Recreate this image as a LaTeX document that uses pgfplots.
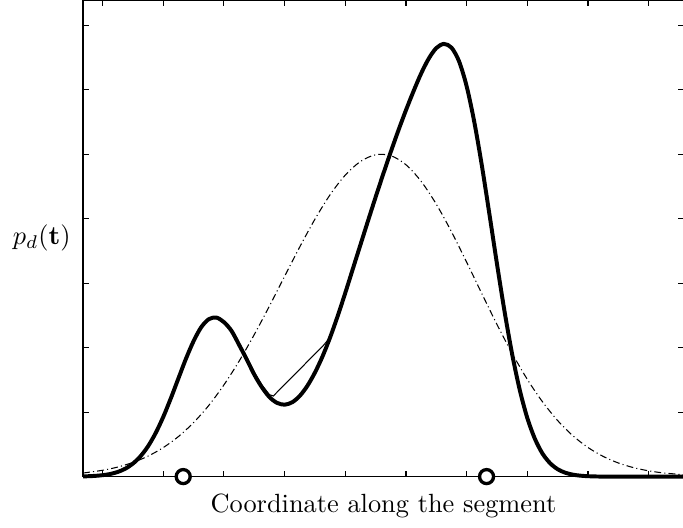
\documentclass[border=0pt]{standalone}
\usepackage{pgfplots}
\pgfplotsset{compat=1.18}

% estimated density (thick), on an even grid
\pgfplotstableread{
x      y
0.678  0.004
0.750  0.005
0.875  0.011
1.000  0.022
1.125  0.040
1.250  0.072
1.375  0.123
1.500  0.202
1.625  0.316
1.750  0.472
1.875  0.677
2.000  0.927
2.125  1.216
2.250  1.525
2.375  1.831
2.500  2.103
2.625  2.317
2.750  2.441
2.875  2.466
3.000  2.395
3.125  2.259
3.250  2.042
3.375  1.818
3.500  1.581
3.625  1.386
3.750  1.232
3.875  1.143
4.000  1.115
4.125  1.153
4.250  1.252
4.375  1.408
4.500  1.614
4.625  1.865
4.750  2.160
4.875  2.492
5.000  2.850
5.125  3.224
5.250  3.597
5.375  3.969
5.500  4.335
5.625  4.692
5.750  5.037
5.875  5.369
6.000  5.683
6.125  5.978
6.250  6.252
6.375  6.482
6.500  6.646
6.625  6.710
6.750  6.652
6.875  6.440
7.000  6.053
7.125  5.504
7.250  4.827
7.375  4.072
7.500  3.297
7.625  2.559
7.750  1.898
7.875  1.345
8.000  0.908
8.125  0.585
8.250  0.357
8.375  0.208
8.500  0.114
8.625  0.060
8.750  0.030
8.875  0.014
9.000  0.006
9.125  0.002
9.250  0.000
9.500  0.000
10.000 0.000
10.579 0.000
}\densitytable

% piecewise-linear approximation (thin)
\pgfplotstableread{
x      y
0.678  0.004
0.750  0.005
0.875  0.011
1.000  0.022
1.125  0.040
1.250  0.072
1.375  0.123
1.500  0.202
1.625  0.316
1.750  0.472
1.875  0.677
2.000  0.927
2.125  1.216
2.250  1.525
2.375  1.831
2.500  2.103
2.625  2.317
2.750  2.441
2.875  2.466
3.000  2.400
3.125  2.280
3.250  2.075
3.375  1.855
3.500  1.620
3.625  1.420
3.750  1.270
3.813  1.250
4.639  2.034
4.750  2.160
4.875  2.492
5.000  2.850
5.125  3.224
5.250  3.597
5.375  3.969
5.500  4.335
5.625  4.692
5.750  5.037
5.875  5.369
6.000  5.683
6.125  5.978
6.250  6.252
6.375  6.482
6.500  6.646
6.625  6.710
6.750  6.652
6.875  6.440
7.000  6.053
7.125  5.504
7.250  4.827
7.375  4.072
7.500  3.297
7.625  2.559
7.750  1.898
7.875  1.345
8.000  0.908
8.125  0.585
8.250  0.357
8.375  0.208
8.500  0.114
8.625  0.060
8.750  0.030
8.875  0.014
9.000  0.006
9.250  0.000
10.579 0.000
}\approxtable

% single Gaussian fit (dash-dot)
\pgfplotstableread{
x      y
0.678  0.055
1.00   0.098
1.25   0.148
1.50   0.220
1.75   0.318
2.00   0.450
2.25   0.621
2.50   0.838
2.75   1.104
3.00   1.423
3.25   1.791
3.50   2.203
3.75   2.646
4.00   3.107
4.25   3.563
4.50   3.993
4.75   4.372
5.00   4.676
5.25   4.887
5.50   4.991
5.75   4.977
6.00   4.836
6.25   4.579
6.50   4.224
6.75   3.797
7.00   3.325
7.25   2.838
7.50   2.359
7.75   1.911
8.00   1.508
8.25   1.160
8.50   0.869
8.75   0.634
9.00   0.451
9.25   0.313
9.50   0.211
9.75   0.139
10.00  0.089
10.25  0.056
10.579 0.029
}\gausstable

\begin{document}
\begin{tikzpicture}
\begin{axis}[
  name=ax,
  scale only axis,
  width=228pt, height=180.9pt,
  xmin=0.678, xmax=10.579,
  ymin=0, ymax=7.391,
  xtick={1,...,10}, ytick={1,...,7},
  xticklabels={}, yticklabels={},
  tick align=inside,
  major tick length=2.1pt,
  tick style={line width=0.4pt, black},
  axis line style={line width=0.6pt},
  clip=false,
]
\addplot[black, line width=0.4pt, dash pattern=on 2.6pt off 1.2pt on 0.4pt off 1.2pt, smooth]
  table[x=x, y=y] {\gausstable};
\addplot[black, line width=0.4pt, sharp plot]
  table[x=x, y=y] {\approxtable};
\addplot[black, line width=1.5pt, smooth]
  table[x=x, y=y] {\densitytable};
\addplot[only marks, mark=*, mark size=2.66pt,
  mark options={fill=white, draw=black, line width=1.25pt}]
  coordinates {(2.328,0) (7.328,0)};
\node[anchor=east, xshift=-1.2pt] at (axis description cs:0,0.5) {$p_d(\mathbf{t})$};
\node[anchor=base, yshift=-13.7pt] at (axis description cs:0.5,0) {Coordinate along the segment};
\end{axis}
\pgfresetboundingbox
\path[use as bounding box] ([xshift=-31.54pt, yshift=-19.38pt]ax.south west) rectangle ([xshift=-0.3pt]ax.north east);
\end{tikzpicture}
\end{document}
